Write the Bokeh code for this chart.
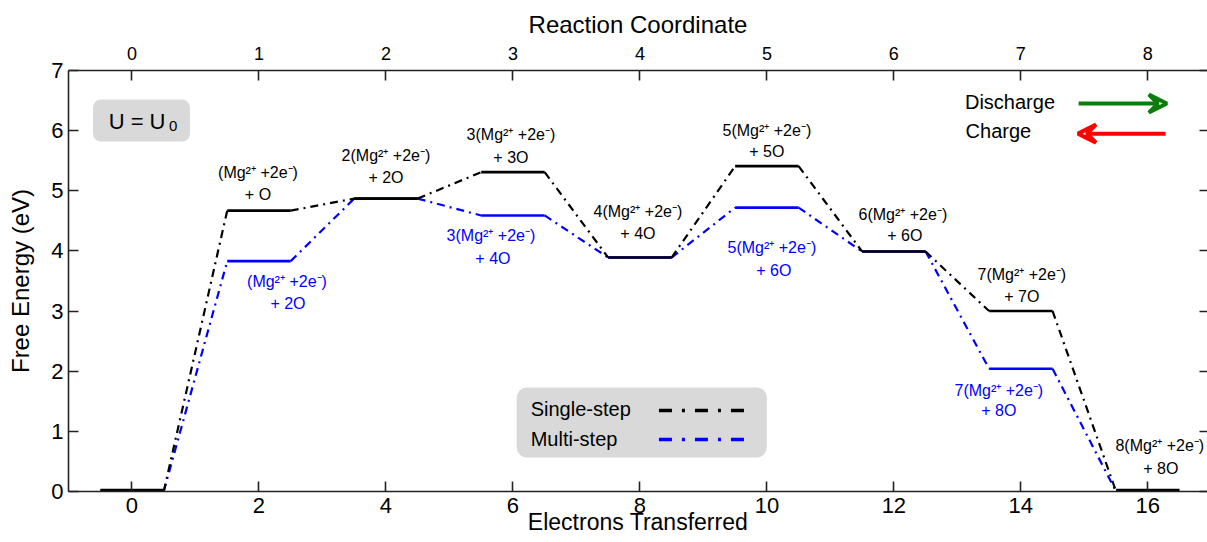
from bokeh.plotting import figure
from bokeh.models import (Range1d, LinearAxis, FixedTicker, BoxAnnotation, Label,
                          Arrow, VeeHead, ColumnDataSource)
from bokeh.embed import file_html
from bokeh.resources import INLINE
from bokeh.core.properties import value

# ---------------- data ----------------
steps = [0, 1, 2, 3, 4, 5, 6, 7, 8]
electrons = [0, 2, 4, 6, 8, 10, 12, 14, 16]
single_step = [0.00, 4.67, 4.87, 5.31, 3.89, 5.41, 3.99, 3.00, 0.00]
multi_step = [0.00, 3.83, 4.87, 4.59, 3.89, 4.72, 3.99, 2.04, 0.00]

single_label_idx = [1, 2, 3, 4, 5, 6, 7, 8]
single_line1 = ["(Mg²⁺ +2e⁻)", "2(Mg²⁺ +2e⁻)", "3(Mg²⁺ +2e⁻)", "4(Mg²⁺ +2e⁻)",
                "5(Mg²⁺ +2e⁻)", "6(Mg²⁺ +2e⁻)", "7(Mg²⁺ +2e⁻)", "8(Mg²⁺ +2e⁻)"]
single_line2 = ["+ O", "+ 2O", "+ 3O", "+ 4O", "+ 5O", "+ 6O", "+ 7O", "+ 8O"]

multi_label_idx = [1, 3, 5, 7]
multi_line1 = ["(Mg²⁺ +2e⁻)", "3(Mg²⁺ +2e⁻)", "5(Mg²⁺ +2e⁻)", "7(Mg²⁺ +2e⁻)"]
multi_line2 = ["+ 2O", "+ 4O", "+ 6O", "+ 8O"]

y_ticks = [0, 1, 2, 3, 4, 5, 6, 7]
x_ticks = [0, 2, 4, 6, 8, 10, 12, 14, 16]

# ---------------- layout / style ----------------
FONT = "Liberation Sans"
HALF = 0.5
X_START, X_END = -1.0, 16.94
BLACK = "#000000"
BLUE = "#0000ff"
DASH = "8 5 2 5"

# label offsets in screen px (dx, dy) relative to level centre
single_off1 = [(-1, -38), (0, -43), (-2, -38), (-2, -46), (0, -36), (9, -37), (1, -37), (12, -46)]
single_off2 = [(-1, -16), (0, -21), (-2, -15), (-2, -24), (0, -15), (11, -16), (1, -15), (13, -23)]
multi_off1 = [(28, 20), (-22, 20), (5, 40), (-22, 22)]
multi_off2 = [(29, 42), (-20, 43), (7, 63), (-22, 42)]

p = figure(width=1207, height=542, output_backend="svg", toolbar_location=None,
           x_range=Range1d(X_START, X_END), y_range=Range1d(0, 7),
           min_border_left=68, min_border_right=0, min_border_top=70, min_border_bottom=51)
p.outline_line_color = None
p.grid.visible = False
p.background_fill_color = "white"
p.border_fill_color = "white"

p.extra_x_ranges = {"rc": Range1d(X_START / 2, X_END / 2)}


def style_axis(ax, tick_size):
    ax.axis_line_color = "#222222"
    ax.axis_line_width = 1.6
    ax.major_tick_line_color = "#222222"
    ax.major_tick_line_width = 1.6
    ax.major_tick_in = 10
    ax.major_tick_out = 0
    ax.minor_tick_line_color = None
    ax.major_label_text_font = FONT
    ax.major_label_text_font_size = tick_size
    ax.major_label_text_color = "black"
    ax.axis_label_text_font = FONT
    ax.axis_label_text_font_size = "24px"
    ax.axis_label_text_font_style = "normal"
    ax.axis_label_text_color = "black"


bx = p.xaxis[0]
bx.ticker = FixedTicker(ticks=x_ticks)
bx.axis_label = "Electrons Transferred"
style_axis(bx, "22px")
bx.axis_label_text_font_size = "23px"
bx.major_label_standoff = 6
bx.axis_label_standoff = -7

ly = p.yaxis[0]
ly.ticker = FixedTicker(ticks=y_ticks)
ly.axis_label = "Free Energy (eV)"
style_axis(ly, "22px")
ly.major_label_standoff = 5
ly.axis_label_standoff = 14

top = LinearAxis(x_range_name="rc", ticker=FixedTicker(ticks=steps),
                 axis_label="Reaction Coordinate")
style_axis(top, "18px")
top.major_label_standoff = 11
top.axis_label_standoff = 6
p.add_layout(top, "above")

right = LinearAxis(ticker=FixedTicker(ticks=y_ticks),
                   major_label_overrides={t: "" for t in y_ticks})
style_axis(right, "1px")
right.axis_line_color = None
right.major_label_standoff = 0
right.major_tick_in = 8
p.add_layout(right, "right")

# ---------------- connectors ----------------
def connectors(vals):
    return dict(x0=[electrons[i] + HALF for i in range(len(vals) - 1)],
                y0=vals[:-1],
                x1=[electrons[i + 1] - HALF for i in range(len(vals) - 1)],
                y1=vals[1:])


p.segment(source=ColumnDataSource(connectors(multi_step)), x0="x0", y0="y0", x1="x1", y1="y1",
          line_color=BLUE, line_width=2.2, line_dash=DASH)
p.segment(source=ColumnDataSource(connectors(single_step)), x0="x0", y0="y0", x1="x1", y1="y1",
          line_color=BLACK, line_width=2.2, line_dash=DASH)

# ---------------- levels ----------------
mid = list(range(1, len(steps) - 1))
ends = [0, len(steps) - 1]
p.segment(x0=[electrons[i] - HALF for i in mid], x1=[electrons[i] + HALF for i in mid],
          y0=[multi_step[i] for i in mid], y1=[multi_step[i] for i in mid],
          line_color=BLUE, line_width=2.6)
p.segment(x0=[electrons[i] - HALF for i in mid], x1=[electrons[i] + HALF for i in mid],
          y0=[single_step[i] for i in mid], y1=[single_step[i] for i in mid],
          line_color=BLACK, line_width=2.6)
p.segment(x0=[electrons[i] - HALF for i in ends], x1=[electrons[i] + HALF for i in ends],
          y0=[single_step[i] for i in ends], y1=[single_step[i] for i in ends],
          line_color=BLACK, line_width=5.5)

# ---------------- level labels ----------------
def add_labels(idx, vals, texts, offs, color):
    src = ColumnDataSource(dict(x=[electrons[i] for i in idx], y=[vals[i] for i in idx],
                                t=texts, dx=[o[0] for o in offs], dy=[o[1] for o in offs]))
    p.text(x="x", y="y", text="t", x_offset="dx", y_offset="dy", source=src,
           text_color=color, text_font=value(FONT), text_font_size="16px",
           text_align="center", text_baseline="middle")


add_labels(single_label_idx, single_step, single_line1, single_off1, BLACK)
add_labels(single_label_idx, single_step, single_line2, single_off2, BLACK)
add_labels(multi_label_idx, multi_step, multi_line1, multi_off1, BLUE)
add_labels(multi_label_idx, multi_step, multi_line2, multi_off2, BLUE)

# ---------------- U = U0 box ----------------
p.add_layout(BoxAnnotation(left=-0.614, right=0.913, top=6.518, bottom=5.82,
                           fill_color="#d9d9d9", fill_alpha=1.0, line_color=None,
                           border_radius=8, level="underlay"))
p.add_layout(Label(x=0.08, y=6.16, text="U = U", text_font=FONT, text_font_size="22px",
                   text_align="center", text_baseline="middle", text_color="black"))
p.add_layout(Label(x=0.65, y=6.08, text="0", text_font=FONT, text_font_size="15px",
                   text_align="center", text_baseline="middle", text_color="black"))

# ---------------- legend ----------------
p.add_layout(BoxAnnotation(left=6.06, right=10.0, top=1.73, bottom=0.565,
                           fill_color="#d9d9d9", fill_alpha=1.0, line_color=None,
                           border_radius=10, level="underlay"))
p.add_layout(Label(x=6.28, y=1.38, text="Single-step", text_font=FONT, text_font_size="20px",
                   text_align="left", text_baseline="middle", text_color="black"))
p.add_layout(Label(x=6.28, y=0.88, text="Multi-step", text_font=FONT, text_font_size="20px",
                   text_align="left", text_baseline="middle", text_color="black"))
p.add_layout(Arrow(x_start=8.30, y_start=1.347, x_end=9.73, y_end=1.347, end=None,
                   line_color=BLACK, line_width=3.5, line_dash="13 10 3 10"))
p.add_layout(Arrow(x_start=8.30, y_start=0.865, x_end=9.73, y_end=0.865, end=None,
                   line_color=BLUE, line_width=3.5, line_dash="13 10 3 10"))

# ---------------- discharge / charge ----------------
p.add_layout(Label(x=13.12, y=6.48, text="Discharge", text_font=FONT, text_font_size="20px",
                   text_align="left", text_baseline="middle", text_color="black"))
p.add_layout(Label(x=13.13, y=6.00, text="Charge", text_font=FONT, text_font_size="20px",
                   text_align="left", text_baseline="middle", text_color="black"))
p.add_layout(Arrow(x_start=14.91, y_start=6.45, x_end=16.30, y_end=6.45,
                   line_color="#0b7d0b", line_width=4,
                   end=VeeHead(size=18, line_color="#0b7d0b", line_width=4, fill_color="white",
                               fill_alpha=0)))
p.add_layout(Arrow(x_start=16.28, y_start=5.95, x_end=14.90, y_end=5.95,
                   line_color="#ff0000", line_width=4,
                   end=VeeHead(size=18, line_color="#ff0000", line_width=4, fill_color="white",
                               fill_alpha=0)))

open("out.html", "w").write(file_html(p, INLINE))
